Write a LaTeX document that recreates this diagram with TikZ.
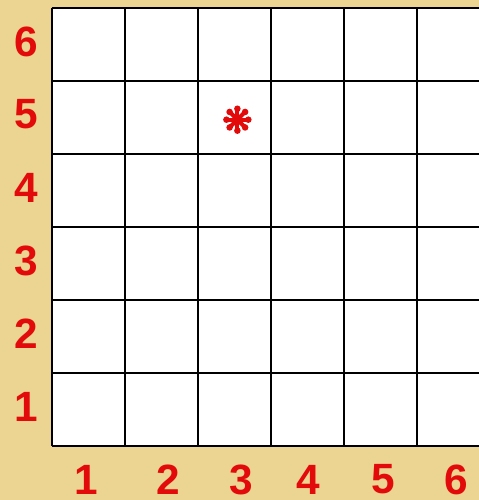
\documentclass[tikz,border=0pt]{standalone}
\usepackage{fontspec}
\setmainfont{Liberation Sans}
\usepackage{xcolor}
\definecolor{sand}{RGB}{236,212,146}
\definecolor{numred}{RGB}{226,10,10}
\usetikzlibrary{positioning}

\begin{document}
\begin{tikzpicture}[
  cell/.style={draw=black, line width=0.8pt},
  num/.style={font=\fontsize{16.5}{19}\selectfont\bfseries, text=numred, inner sep=0pt},
  starray/.style={numred, line width=1.6pt}
]

% Background and frame
\fill[sand] (-0.712,-0.740) rectangle (5.849,6.110);
\useasboundingbox (-0.712,-0.740) rectangle (5.849,6.110);
\clip (-0.712,-0.740) rectangle (5.849,6.110);
\fill[white] (0,0) rectangle (6,6);
\draw[cell] (0,0) grid[step=1] (6,6);

% Row numbers
\foreach \i in {1,...,6}
  \node[num] (row\i) at (-0.356,\i-0.46) {\i};

% Column numbers
\foreach \i/\x in {1/0.475, 2/1.589, 3/2.599, 4/3.507, 5/4.534, 6/5.544}
  \node[num] (col\i) at (\x,-0.46) {\i};

% Marker in cell (3,5)
\coordinate (star) at (2.54,4.47);
\foreach \a in {0,45,...,315} {
  \draw[starray] (star) -- ++(\a:0.15);
  \fill[numred] (star) ++(\a:0.15) circle (0.045);
}
\fill[numred] (star) circle (0.075);

\end{tikzpicture}
\end{document}
